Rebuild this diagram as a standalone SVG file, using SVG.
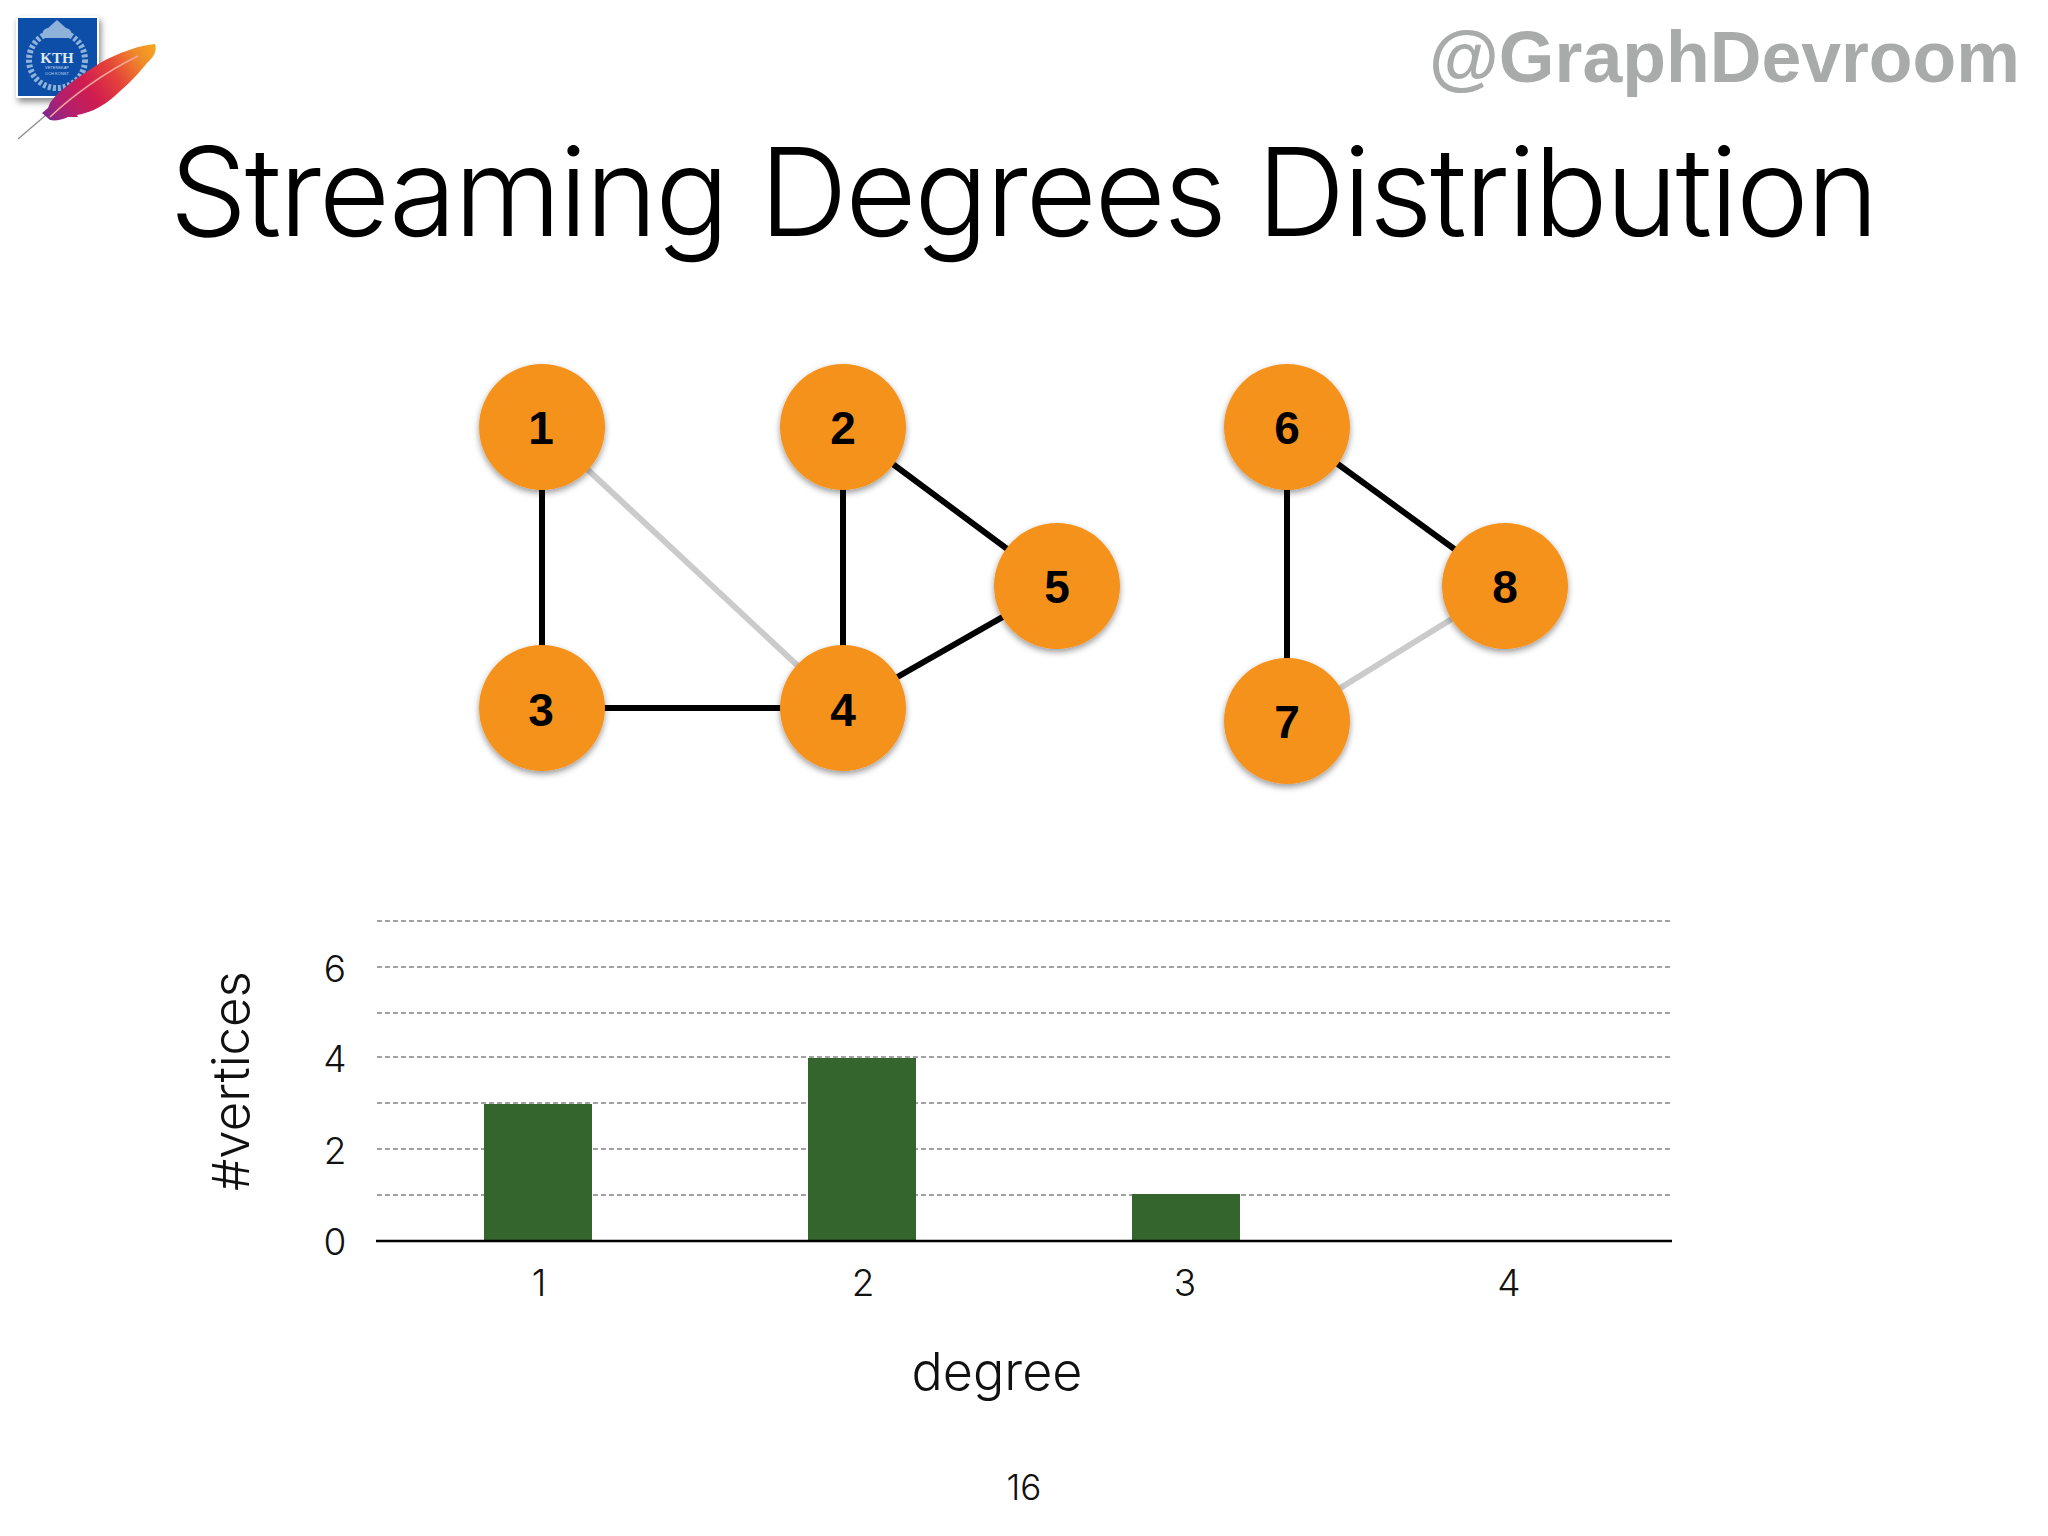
<svg xmlns="http://www.w3.org/2000/svg" width="2048" height="1536" viewBox="0 0 2048 1536">
<style>
.lt{font-family:"Inter","Liberation Sans",sans-serif;font-weight:300;fill:#111}
.num{font-family:"Liberation Sans",Arial,sans-serif;font-weight:700;font-size:46px;fill:#000;text-anchor:middle}
.tick{font-size:37px;text-anchor:middle}
.edge{stroke:#000;stroke-width:6;fill:none}
.faded{stroke:#cbcbcb;stroke-width:6;fill:none}
.grid{stroke:#a3a3a3;stroke-width:2;stroke-dasharray:5 3;fill:none}
.bar{fill:#34652c}
.circ{fill:#f5921e;filter:url(#ds)}
</style>
<defs>
<filter id="ds" x="-20%" y="-20%" width="140%" height="150%"><feDropShadow dx="0" dy="3" stdDeviation="3" flood-color="#000" flood-opacity="0.4"/></filter>
<filter id="ls" x="-20%" y="-20%" width="140%" height="140%"><feDropShadow dx="2" dy="4" stdDeviation="3" flood-color="#000" flood-opacity="0.45"/></filter>
<linearGradient id="fe" gradientUnits="userSpaceOnUse" x1="45" y1="118" x2="155" y2="46"><stop offset="0" stop-color="#7d2a8e"/><stop offset="0.18" stop-color="#b21f6e"/><stop offset="0.4" stop-color="#d01c50"/><stop offset="0.62" stop-color="#e4413a"/><stop offset="0.85" stop-color="#f08a2a"/><stop offset="1" stop-color="#f5a61f"/></linearGradient>
</defs>
<rect width="2048" height="1536" fill="#fff"/>
<g id="logo">
<rect x="17" y="17" width="81" height="80" fill="#0e4fa8" stroke="#fff" stroke-width="2" filter="url(#ls)"/>
<circle cx="57" cy="60" r="28" fill="none" stroke="#8fb2da" stroke-width="6" stroke-dasharray="3 2"/>
<path d="M44 38C41 33 43 29 48 28L57 20L66 28C71 29 73 33 70 38Z" fill="#8fb2da"/>
<text x="57" y="63" font-family="Liberation Serif,serif" font-size="15" font-weight="700" fill="#dce8f5" text-anchor="middle">KTH</text>
<text x="57" y="69" font-family="Liberation Sans,sans-serif" font-size="4" fill="#c5d8ec" text-anchor="middle">VETENSKAP</text>
<text x="57" y="75" font-family="Liberation Sans,sans-serif" font-size="4" fill="#c5d8ec" text-anchor="middle">OCH KONST</text>
<path d="M18 139L46 115" stroke="#8a8a8a" stroke-width="1.2"/>
<path d="M42 113L48 108L50 103C58 92 68 84 100 63C118 53 140 45 155 44C157 50 155 56 147 63C135 78 122 90 110 100C98 109 88 113 77 115L78 117L68 117C62 120 55 121 50 120Z" fill="url(#fe)"/>
<path d="M50 117C72 96 105 72 138 56" stroke="#f5a59a" stroke-width="1.5" fill="none"/>
</g>
<text id="handle" x="2020" y="82" font-family="Liberation Sans,Arial,sans-serif" font-weight="700" font-size="71.6" fill="#a9abaa" text-anchor="end">@GraphDevroom</text>
<text id="title" class="lt" x="1023" y="236" font-size="123" text-anchor="middle" style="fill:#000;letter-spacing:-2.4px">Streaming Degrees Distribution</text>
<g id="connectors">
<line class="edge" x1="542" y1="427" x2="542" y2="708"/>
<line class="faded" x1="542" y1="427" x2="843" y2="708"/>
<line class="edge" x1="843" y1="427" x2="843" y2="708"/>
<line class="edge" x1="843" y1="427" x2="1057" y2="586"/>
<line class="edge" x1="1057" y1="586" x2="843" y2="708"/>
<line class="edge" x1="542" y1="708" x2="843" y2="708"/>
<line class="edge" x1="1287" y1="427" x2="1287" y2="721"/>
<line class="edge" x1="1287" y1="427" x2="1505" y2="586"/>
<line class="faded" x1="1505" y1="586" x2="1287" y2="721"/>
</g>
<g id="node1"><circle class="circ" cx="542" cy="427" r="63"/><text class="num" x="541" y="444">1</text></g>
<g id="node2"><circle class="circ" cx="843" cy="427" r="63"/><text class="num" x="843" y="444">2</text></g>
<g id="node3"><circle class="circ" cx="542" cy="708" r="63"/><text class="num" x="541" y="726">3</text></g>
<g id="node4"><circle class="circ" cx="843" cy="708" r="63"/><text class="num" x="843" y="726">4</text></g>
<g id="node5"><circle class="circ" cx="1057" cy="586" r="63"/><text class="num" x="1057" y="603">5</text></g>
<g id="node6"><circle class="circ" cx="1287" cy="427" r="63"/><text class="num" x="1287" y="444">6</text></g>
<g id="node7"><circle class="circ" cx="1287" cy="721" r="63"/><text class="num" x="1287" y="738">7</text></g>
<g id="node8"><circle class="circ" cx="1505" cy="586" r="63"/><text class="num" x="1505" y="603">8</text></g>
<g id="chart">
<g class="grid">
<line x1="377" y1="921" x2="1671" y2="921"/>
<line x1="377" y1="967" x2="1671" y2="967"/>
<line x1="377" y1="1013" x2="1671" y2="1013"/>
<line x1="377" y1="1057" x2="1671" y2="1057"/>
<line x1="377" y1="1103" x2="1671" y2="1103"/>
<line x1="377" y1="1149" x2="1671" y2="1149"/>
<line x1="377" y1="1195" x2="1671" y2="1195"/>
</g>
<rect class="bar" x="484" y="1104" width="108" height="137"/>
<rect class="bar" x="808" y="1058" width="108" height="183"/>
<rect class="bar" x="1132" y="1194" width="108" height="47"/>
<line x1="376" y1="1241" x2="1672" y2="1241" stroke="#000" stroke-width="2.5"/>
<g class="lt tick">
<text x="335" y="982">6</text><text x="335" y="1072">4</text><text x="335" y="1164">2</text><text x="335" y="1255">0</text>
<text x="539" y="1296">1</text><text x="863" y="1296">2</text><text x="1185" y="1296">3</text><text x="1509" y="1296">4</text>
</g>
<text class="lt" x="997" y="1390" font-size="52" text-anchor="middle">degree</text>
<text class="lt" transform="translate(249 1081) rotate(-90)" font-size="51" text-anchor="middle">#vertices</text>
</g>
<text id="page" class="lt" x="1024" y="1500" font-size="35" text-anchor="middle">16</text>
</svg>
